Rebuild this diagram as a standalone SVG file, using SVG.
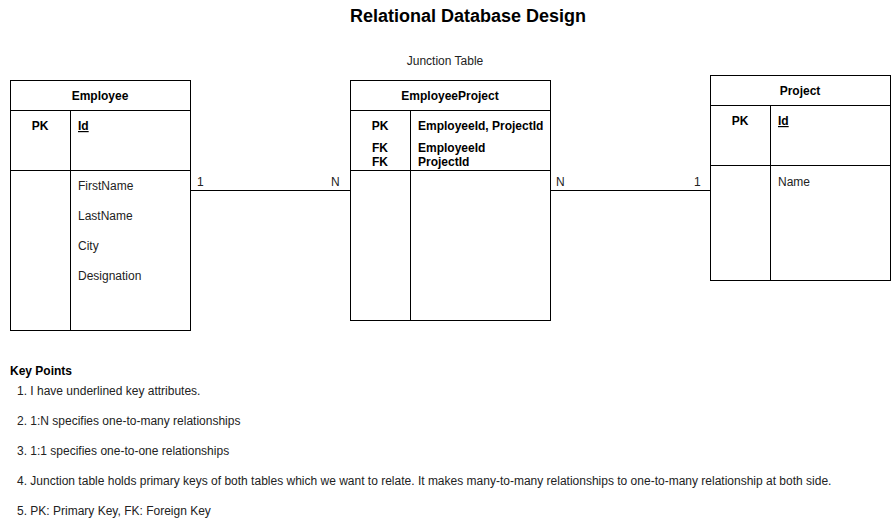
<svg xmlns="http://www.w3.org/2000/svg" width="891" height="521" viewBox="0 0 891 521">
<style>
text{font-family:"Liberation Sans",Arial,sans-serif;font-size:12px;fill:#222}
.b{font-weight:bold;fill:#000}
.c{text-anchor:middle}
.u{text-decoration:underline}
.box{fill:#fff;stroke:#000;stroke-width:1}
.ln{stroke:#000;stroke-width:1;fill:none}
.title{font-size:18px;font-weight:bold;fill:#000}
</style>
<rect width="891" height="521" fill="#fff"/>
<text class="title c" x="468" y="22">Relational Database Design</text>
<text class="c" x="445" y="64.5">Junction Table</text>

<g id="connectors">
<line class="ln" x1="190" y1="190.5" x2="350" y2="190.5"/>
<text x="197" y="185.5">1</text>
<text x="331" y="185.5">N</text>
<line class="ln" x1="550" y1="190.5" x2="710" y2="190.5"/>
<text x="556" y="185.5">N</text>
<text x="694" y="185.5">1</text>
</g>

<g id="employee">
<rect class="box" x="10.5" y="80.5" width="180" height="250"/>
<line class="ln" x1="10" y1="110.5" x2="190" y2="110.5"/>
<line class="ln" x1="10" y1="170.5" x2="190" y2="170.5"/>
<line class="ln" x1="70.5" y1="110" x2="70.5" y2="330"/>
<text class="b c" x="100" y="100">Employee</text>
<text class="b c" x="40" y="130">PK</text>
<text class="b u" x="78" y="130">Id</text>
<text x="78" y="189.5">FirstName</text>
<text x="78" y="219.5">LastName</text>
<text x="78" y="249.5">City</text>
<text x="78" y="279.5">Designation</text>
</g>

<g id="employeeproject">
<rect class="box" x="350.5" y="80.5" width="200" height="240"/>
<line class="ln" x1="350" y1="110.5" x2="550" y2="110.5"/>
<line class="ln" x1="350" y1="170.5" x2="550" y2="170.5"/>
<line class="ln" x1="410.5" y1="110" x2="410.5" y2="320"/>
<text class="b c" x="450" y="100">EmployeeProject</text>
<text class="b c" x="380" y="130">PK</text>
<text class="b" x="418" y="130">EmployeeId, ProjectId</text>
<text class="b c" x="380" y="152">FK</text>
<text class="b c" x="380" y="166">FK</text>
<text class="b" x="418" y="152">EmployeeId</text>
<text class="b" x="418" y="166">ProjectId</text>
</g>

<g id="project">
<rect class="box" x="710.5" y="75.5" width="180" height="205"/>
<line class="ln" x1="710" y1="105.5" x2="890" y2="105.5"/>
<line class="ln" x1="710" y1="165.5" x2="890" y2="165.5"/>
<line class="ln" x1="770.5" y1="105" x2="770.5" y2="280"/>
<text class="b c" x="800" y="95">Project</text>
<text class="b c" x="740" y="125">PK</text>
<text class="b u" x="778" y="125">Id</text>
<text x="778" y="185.5">Name</text>
</g>

<g id="keypoints">
<text class="b" x="10" y="375">Key Points</text>
<text x="17" y="394.5">1. I have underlined key attributes.</text>
<text x="17" y="424.5">2. 1:N specifies one-to-many relationships</text>
<text x="17" y="454.5">3. 1:1 specifies one-to-one relationships</text>
<text x="17" y="484.5">4. Junction table holds primary keys of both tables which we want to relate. It makes many-to-many relationships to one-to-many relationship at both side.</text>
<text x="17" y="514.5">5. PK: Primary Key, FK: Foreign Key</text>
</g>
</svg>
